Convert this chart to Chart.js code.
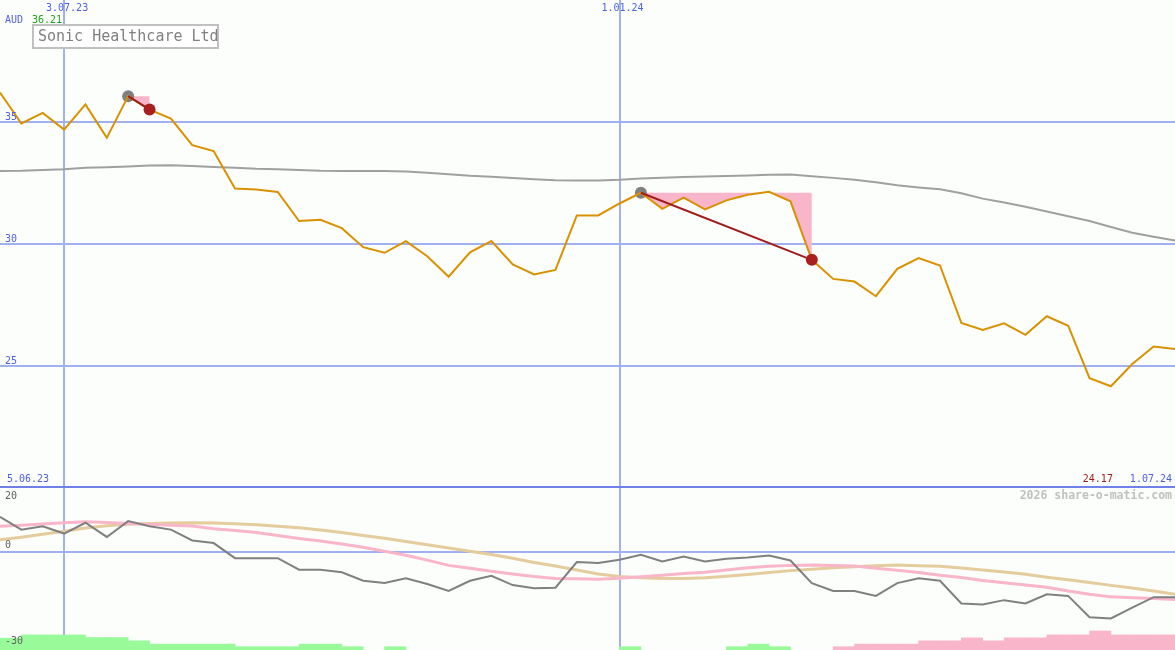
<!DOCTYPE html>
<html>
<head>
<meta charset="utf-8">
<script src="https://cdn.jsdelivr.net/npm/chart.js@4.4.1/dist/chart.umd.min.js"></script>
<style>
  html, body { margin: 0; padding: 0; background: #fbfefb; }
  #wrap { position: relative; width: 1175px; height: 650px; overflow: hidden; }
  canvas { position: absolute; left: 0; }
  #lower { top: 486px; }
  #upper { top: 0; }
</style>
</head>
<body>
<div id="wrap">
  <canvas id="lower" width="1175" height="164"></canvas>
  <canvas id="upper" width="1175" height="488"></canvas>
</div>
<script>
// weekly closes, 12.06.23 .. 1.07.24 (index 0..55)
const price = [36.21, 34.94, 35.37, 34.69, 35.72, 34.35, 36.06, 35.51, 35.14, 34.05,
  33.81, 32.27, 32.23, 32.13, 30.94, 30.99, 30.65, 29.87, 29.64, 30.12,
  29.5, 28.66, 29.66, 30.12, 29.16, 28.75, 28.94, 31.17, 31.17, 31.66,
  32.1, 31.44, 31.9, 31.42, 31.79, 32.02, 32.14, 31.75, 29.35, 28.57,
  28.46, 27.86, 28.98, 29.42, 29.12, 26.76, 26.48, 26.75, 26.28, 27.04,
  26.65, 24.5, 24.17, 25.08, 25.8, 25.7];
const movingAvg = [32.99, 33.0, 33.03, 33.06, 33.12, 33.15, 33.18, 33.22, 33.23, 33.2,
  33.16, 33.12, 33.08, 33.06, 33.03, 33.0, 32.99, 32.99, 32.99, 32.97,
  32.92, 32.86, 32.8, 32.76, 32.7, 32.65, 32.61, 32.6, 32.6, 32.63,
  32.68, 32.72, 32.75, 32.77, 32.79, 32.81, 32.84, 32.85, 32.78, 32.71,
  32.63, 32.53, 32.41, 32.32, 32.24, 32.08, 31.86, 31.7, 31.53, 31.33,
  31.14, 30.94, 30.7, 30.46, 30.3, 30.14];
// signals: start index (grey dot) -> exit index (red dot)
const signalStart = [6, 30];
const signalEnd = [7, 38];

// lower panel
const momentum = [10.6, 6.7, 7.75, 5.5, 8.8, 4.47, 9.3, 7.75, 6.7, 3.4,
  2.6, -2.0, -2.0, -2.0, -5.5, -5.5, -6.3, -8.9, -9.6, -8.1,
  -9.9, -12.0, -8.9, -7.4, -10.2, -11.2, -11.0, -3.2, -3.5, -2.5,
  -1.0, -3.0, -1.5, -3.0, -2.2, -1.8, -1.2, -2.7, -9.6, -12.0,
  -12.0, -13.5, -9.6, -8.1, -8.9, -15.8, -16.1, -14.8, -15.8, -13.0,
  -13.5, -20.0, -20.4, -17.1, -13.9, -13.9];
const fastAvg = [7.75, 8.0, 8.4, 8.8, 9.1, 8.9, 8.6, 8.3, 8.0, 7.8,
  7.0, 6.4, 5.8, 4.9, 4.0, 3.2, 2.3, 1.3, 0.1, -1.1,
  -2.6, -4.2, -5.1, -6.0, -6.8, -7.6, -8.2, -8.3, -8.4, -8.1,
  -7.7, -7.2, -6.7, -6.3, -5.6, -4.9, -4.5, -4.2, -4.1, -4.2,
  -4.4, -5.1, -5.7, -6.4, -7.2, -7.9, -8.8, -9.5, -10.2, -10.9,
  -12.0, -13.0, -13.8, -14.1, -14.3, -14.6];
const slowAvg = [3.6, 4.4, 5.3, 6.2, 7.2, 7.9, 8.3, 8.6, 8.7, 8.8,
  8.7, 8.5, 8.2, 7.7, 7.25, 6.6, 5.8, 4.9, 4.1, 3.1,
  2.1, 1.1, 0.1, -0.9, -2.0, -3.3, -4.4, -5.6, -6.8, -7.6,
  -8.0, -8.2, -8.2, -8.0, -7.5, -7.0, -6.4, -5.8, -5.4, -4.9,
  -4.6, -4.3, -4.1, -4.3, -4.5, -5.0, -5.6, -6.2, -6.9, -7.8,
  -8.6, -9.4, -10.3, -11.1, -12.0, -13.0];
// histogram heights above the -30 floor, one per week interval
const greenBars = [3.6, 4.6, 4.6, 4.6, 3.8, 3.8, 2.8, 1.8, 1.8, 1.8,
  1.8, 1.0, 1.0, 1.0, 1.8, 1.8, 1.0, 0, 1.0, 0,
  0, 0, 0, 0, 0, 0, 0, 0, 0, 1.0,
  0, 0, 0, 0, 1.0, 1.8, 1.0, 0, 0, 0,
  0, 0, 0, 0, 0, 0, 0, 0, 0, 0,
  0, 0, 0, 0, 0];
const pinkBars = [0, 0, 0, 0, 0, 0, 0, 0, 0, 0,
  0, 0, 0, 0, 0, 0, 0, 0, 0, 0,
  0, 0, 0, 0, 0, 0, 0, 0, 0, 0,
  0, 0, 0, 0, 0, 0, 0, 0, 0, 1.0,
  1.8, 1.8, 1.8, 2.8, 2.8, 3.7, 2.8, 3.7, 3.7, 4.6,
  4.6, 5.8, 4.6, 4.6, 4.6];

const priceTicks = [25, 30, 35];
const lowerTicks = [20, 0, -30];
const dateIdx = [3, 29];
const dateLabels = ['3.07.23', '1.01.24'];
const firstDate = '5.06.23';
const lastDate = '1.07.24';
const title = 'Sonic Healthcare Ltd';
const currency = 'AUD';
const lowPrice = 24.17;
const highPrice = 36.21;
const credit = '2026 share-o-matic.com';

const blue = '#5060e0';
const gridBlue = '#a0b0f0';
const mono = 'DejaVu Sans Mono';
const pink = '#f9b5c9';
const green = '#98fa98';

const pts = (arr) => arr.map((y, x) => ({ x, y }));

function xScale() {
  return {
    type: 'linear', min: 0, max: price.length - 1, offset: false,
    afterFit: (s) => { s.height = 0; },
    afterBuildTicks: (s) => { s.ticks = dateIdx.map((v) => ({ value: v })); },
    ticks: { display: false },
    grid: { color: gridBlue, lineWidth: 2, drawTicks: false, offset: false },
    border: { display: false },
  };
}

function yScale(min, max, ticks) {
  return {
    type: 'linear', min, max,
    afterFit: (s) => { s.width = 0; },
    afterBuildTicks: (s) => { s.ticks = ticks.map((v) => ({ value: v })); },
    ticks: { display: false },
    grid: { color: gridBlue, lineWidth: 2, drawTicks: false },
    border: { display: false },
  };
}

function text(ctx, str, x, y, color, align, size) {
  ctx.save();
  ctx.font = (size || 10) + 'px "' + mono + '"';
  ctx.fillStyle = color;
  ctx.textAlign = align || 'left';
  ctx.textBaseline = 'middle';
  ctx.fillText(str, x, y);
  ctx.restore();
}

// signal datasets: a flat level from the entry close, filled against the price
const signalSets = [];
signalStart.forEach((s, k) => {
  const e = signalEnd[k];
  const level = price.map((p, i) => (i >= s && i <= e ? price[s] : null));
  signalSets.push({
    data: pts(level),
    borderColor: 'rgba(0,0,0,0)',
    borderWidth: 0,
    pointRadius: 0,
    fill: { target: 0, above: pink, below: green },
    order: 6,
  });
  signalSets.push({
    data: [{ x: s, y: price[s] }, { x: e, y: price[e] }],
    borderColor: '#a01c1c',
    borderWidth: 2,
    pointRadius: 0,
    order: 1,
  });
});

const upperLabels = {
  id: 'upperLabels',
  afterDraw(chart) {
    const { ctx, scales: { x, y }, chartArea } = chart;
    // panel divider
    ctx.save();
    ctx.fillStyle = '#7080e8';
    ctx.fillRect(0, chartArea.bottom - 2, chartArea.right, 2);
    ctx.restore();
    priceTicks.forEach((v) => text(ctx, String(v), 5, y.getPixelForValue(v) - 5, blue));
    dateIdx.forEach((d, i) => text(ctx, dateLabels[i], x.getPixelForValue(d) + 3, 8, blue, 'center'));
    text(ctx, currency, 5, 20, blue);
    text(ctx, highPrice.toFixed(2), 32, 20, '#20a020');
    text(ctx, firstDate, 7, 479, blue);
    text(ctx, lastDate, x.getPixelForValue(price.length - 1) - 3, 479, blue, 'right');
    text(ctx, lowPrice.toFixed(2), x.getPixelForValue(price.indexOf(lowPrice)) + 2, 479, '#a01c1c', 'right');
    // title box
    ctx.save();
    ctx.fillStyle = '#ffffff';
    ctx.fillRect(33, 25, 185, 23);
    ctx.strokeStyle = '#c0c0c0';
    ctx.lineWidth = 2;
    ctx.strokeRect(33, 25, 185, 23);
    ctx.restore();
    text(ctx, title, 38, 37, '#808080', 'left', 15);
  },
};

new Chart(document.getElementById('upper'), {
  type: 'line',
  data: {
    datasets: [
      { data: pts(price), borderColor: '#d99100', borderWidth: 2, pointRadius: 0, order: 2 },
      { data: pts(movingAvg), borderColor: '#a0a0a0', borderWidth: 2, pointRadius: 0, order: 5 },
      ...signalSets,
      {
        data: signalStart.map((i) => ({ x: i, y: price[i] })),
        showLine: false, pointRadius: 6, pointBackgroundColor: '#808080',
        pointBorderWidth: 0, order: 3,
      },
      {
        data: signalEnd.map((i) => ({ x: i, y: price[i] })),
        showLine: false, pointRadius: 6, pointBackgroundColor: '#a82020',
        pointBorderWidth: 0, order: 0,
      },
    ],
  },
  options: {
    responsive: false,
    animation: false,
    devicePixelRatio: 1,
    events: [],
    layout: { padding: 0, autoPadding: false },
    scales: {
      x: xScale(),
      y: yScale(20, 40, priceTicks),
    },
    plugins: {
      legend: { display: false },
      tooltip: { enabled: false },
      filler: { drawTime: 'beforeDatasetsDraw' },
    },
  },
  plugins: [upperLabels],
});

const lowerLabels = {
  id: 'lowerLabels',
  afterDraw(chart) {
    const { ctx, scales: { y }, chartArea } = chart;
    lowerTicks.forEach((v) => {
      let py = y.getPixelForValue(v) - 6;
      py = Math.max(chartArea.top + 10, Math.min(chartArea.bottom - 9, py));
      text(ctx, String(v), 5, py, '#606060');
    });
    ctx.save();
    ctx.font = 'bold 11.5px "' + mono + '"';
    ctx.fillStyle = '#c0c0c0';
    ctx.textAlign = 'right';
    ctx.textBaseline = 'middle';
    ctx.fillText(credit, 1172, 10);
    ctx.restore();
  },
};

const barPts = (arr) => arr.map((h, i) => ({ x: i + 0.5, y: [-30, -30 + h] })).filter((p) => p.y[1] > -30);

new Chart(document.getElementById('lower'), {
  type: 'line',
  data: {
    datasets: [
      { data: pts(momentum), borderColor: '#808080', borderWidth: 2, pointRadius: 0, order: 0 },
      { data: pts(fastAvg), borderColor: '#f9b5c9', borderWidth: 3, pointRadius: 0, order: 1 },
      { data: pts(slowAvg), borderColor: '#e4cc9c', borderWidth: 3, pointRadius: 0, order: 2 },
      {
        type: 'bar', data: barPts(greenBars), backgroundColor: green,
        barPercentage: 1, categoryPercentage: 1, grouped: false, borderWidth: 0, order: 3,
      },
      {
        type: 'bar', data: barPts(pinkBars), backgroundColor: pink,
        barPercentage: 1, categoryPercentage: 1, grouped: false, borderWidth: 0, order: 3,
      },
    ],
  },
  options: {
    responsive: false,
    animation: false,
    devicePixelRatio: 1,
    events: [],
    layout: { padding: 0, autoPadding: false },
    scales: {
      x: xScale(),
      y: yScale(-30, 20, [0]),
    },
    plugins: {
      legend: { display: false },
      tooltip: { enabled: false },
    },
  },
  plugins: [lowerLabels],
});
</script>
</body>
</html>
